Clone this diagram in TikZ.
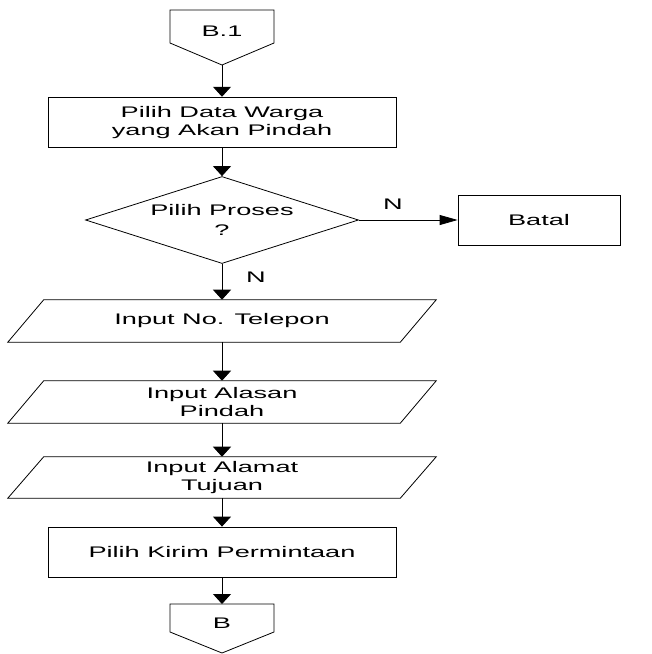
\documentclass[tikz,border=0pt]{standalone}
\usepackage{fontspec}
\setmainfont{Liberation Sans}[FakeStretch=1.77]
\usetikzlibrary{arrows.meta,calc,shapes.geometric}
\tikzset{
  txt/.style={font=\fontsize{11.5pt}{13pt}\selectfont, align=center, inner sep=0pt},
  ln/.style={draw=black, line width=0.6pt},
  procbox/.style={txt, ln, rectangle, minimum width=261pt, minimum height=38pt},
  iobox/.style={txt, rectangle, minimum width=321pt, minimum height=31.5pt},
  decbox/.style={txt, ln, diamond, minimum width=204.75pt, minimum height=65.25pt, aspect=3.14},
  varr/.style={ln, -{Triangle[width=13.5pt,length=7.5pt]}},
  harr/.style={ln, -{Triangle[width=7.5pt,length=13.5pt]}},
}
\begin{document}
\begin{tikzpicture}[x=0.75pt,y=-0.75pt]
\useasboundingbox (0,0) rectangle (651,654);
% off-page connector B.1
\draw[ln] (170,10) -- (274,10) -- (274,43) -- (222,65) -- (170,43) -- cycle;
\node[txt] (b1) at (222,31) {B.1};
\coordinate (b1tip) at (222,65);
% process box 1
\node[procbox] (pilih) at (222,122.5) {Pilih Data Warga\\yang Akan Pindah};
% decision
\node[decbox] (proses) at (222,220) {Pilih Proses\\[2pt]?};
% batal
\node[txt, ln, rectangle, minimum width=121.5pt, minimum height=37.5pt] (batal) at (539,220) {Batal};
% inputs
\node[iobox] (telp) at (222,321) {Input No. Telepon};
\node[iobox] (alasan) at (222,402) {Input Alasan\\Pindah};
\node[iobox, minimum height=30.75pt] (alamat) at (222,477.5) {Input Alamat\\Tujuan};
\foreach \n in {telp,alasan,alamat}{
  \draw[ln] ([xshift=27pt]\n.north west) -- (\n.north east) -- ([xshift=-27pt]\n.south east) -- (\n.south west) -- cycle;
}
% kirim
\node[procbox, minimum height=37.5pt] (kirim) at (222,552) {Pilih Kirim Permintaan};
% off-page connector B
\draw[ln] (170,604) -- (274,604) -- (274,632) -- (222,653) -- (170,632) -- cycle;
\node[txt] (b) at (222,623) {B};
\coordinate (btop) at (222,604);
% connectors
\draw[varr] (b1tip) -- (pilih.north);
\draw[varr] (pilih.south) -- (proses.north);
\draw[harr] (proses.east) -- (batal.west);
\draw[varr] (proses.south) -- (telp.north);
\draw[varr] (telp.south) -- (alasan.north);
\draw[varr] (alasan.south) -- (alamat.north);
\draw[varr] (alamat.south) -- (kirim.north);
\draw[varr] (kirim.south) -- (btop);
% labels
\node[txt] (n1) at (393,204) {N};
\node[txt] (n2) at (256,277) {N};
\end{tikzpicture}
\end{document}
